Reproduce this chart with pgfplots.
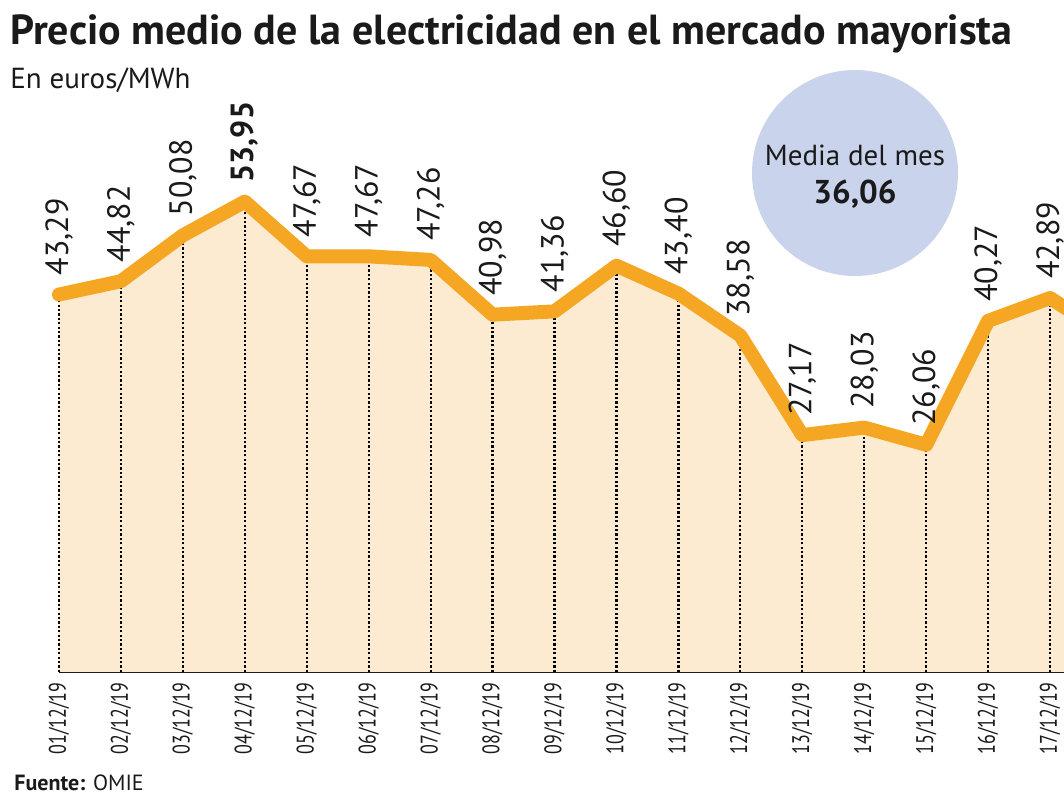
\documentclass[border=0pt]{standalone}
\usepackage{fontspec}
\usepackage{pgfplots}
\usepackage{pgfplotstable}
\pgfplotsset{compat=1.18}
\setmainfont{PT Sans}
\newfontfamily\condfont{PT Sans}[FakeStretch=0.75]
\definecolor{linec}{HTML}{F5A623}
\definecolor{fillc}{HTML}{FDEBD1}
\definecolor{circc}{HTML}{C9D3EB}
\definecolor{txt}{HTML}{1A1A1A}
\pgfplotstableread{
x y label
0 43.29 43,29
1 44.82 44,82
2 50.08 50,08
3 53.95 \textbf{53,95}
4 47.67 47,67
5 47.67 47,67
6 47.26 47,26
7 40.98 40,98
8 41.36 41,36
9 46.60 46,60
10 43.40 43,40
11 38.58 38,58
12 27.17 27,17
13 28.03 28,03
14 26.06 26,06
15 40.27 40,27
16 42.89 42,89
17 38.30 x
}\pricedata
\begin{document}
\begin{tikzpicture}
\useasboundingbox (-29.5pt,-64pt) rectangle (502.5pt,336pt);
\clip (-29.5pt,-64pt) rectangle (502.5pt,336pt);
\fill[white] (-29.5pt,-64pt) rectangle (502.5pt,336pt);
\begin{scope}[shift={(-29.5pt,-64pt)}, x=0.5pt, y=0.5pt]
\fill[circc] (855,627) circle (103);
\node[anchor=base, text=txt, font=\fontsize{14.5}{16}\selectfont, inner sep=0pt] at (855,635) {Media del mes};
\node[anchor=base, text=txt, font=\bfseries\fontsize{16.5}{18}\selectfont, inner sep=0pt] at (855,597) {36,06};
\node[anchor=base west, text=txt, font=\bfseries\fontsize{21}{24}\selectfont, inner sep=0pt] at (10,756) {Precio medio de la electricidad en el mercado mayorista};
\node[anchor=base west, text=txt, font=\fontsize{14.5}{16}\selectfont, inner sep=0pt] at (10,712) {En euros/MWh};
\node[anchor=base west, text=txt, font=\fontsize{11}{13}\selectfont, inner sep=0pt] at (14,10) {\textbf{Fuente:} OMIE};
\end{scope}
\begin{axis}[
  at={(0pt,0pt)}, anchor=south west,
  scale only axis, width=526.5pt, height=286pt,
  xmin=0, xmax=17, ymin=0, ymax=65.6,
  clip=false,
  axis x line=bottom, axis y line=none,
  axis line style={-, line width=1.2pt, black},
  ytick=\empty,
  xtick={0,...,16},
  xticklabels={01/12/19,02/12/19,03/12/19,04/12/19,05/12/19,06/12/19,07/12/19,08/12/19,09/12/19,10/12/19,11/12/19,12/12/19,13/12/19,14/12/19,15/12/19,16/12/19,17/12/19},
  major tick length=0pt,
  xticklabel shift=5pt,
  xticklabel style={rotate=90, anchor=east, inner sep=0pt, text=txt, font=\condfont\fontsize{12}{12}\selectfont},
]
\addplot[fill=fillc, draw=none] table[x=x, y=y] {\pricedata} \closedcycle;
\addplot[ycomb, black, line width=1.1pt, dash pattern=on 1.1pt off 1.1pt,
  restrict x to domain=0:16,
  nodes near coords, point meta=explicit symbolic,
  every node near coord/.append style={rotate=90, anchor=west, inner xsep=9pt, inner ysep=0pt, text=txt, font=\fontsize{16}{17}\selectfont}
] table[x=x, y=y, meta=label] {\pricedata};
\addplot[linec, line width=7pt, line cap=round, line join=round] table[x=x, y=y] {\pricedata};
\end{axis}
\end{tikzpicture}
\end{document}
